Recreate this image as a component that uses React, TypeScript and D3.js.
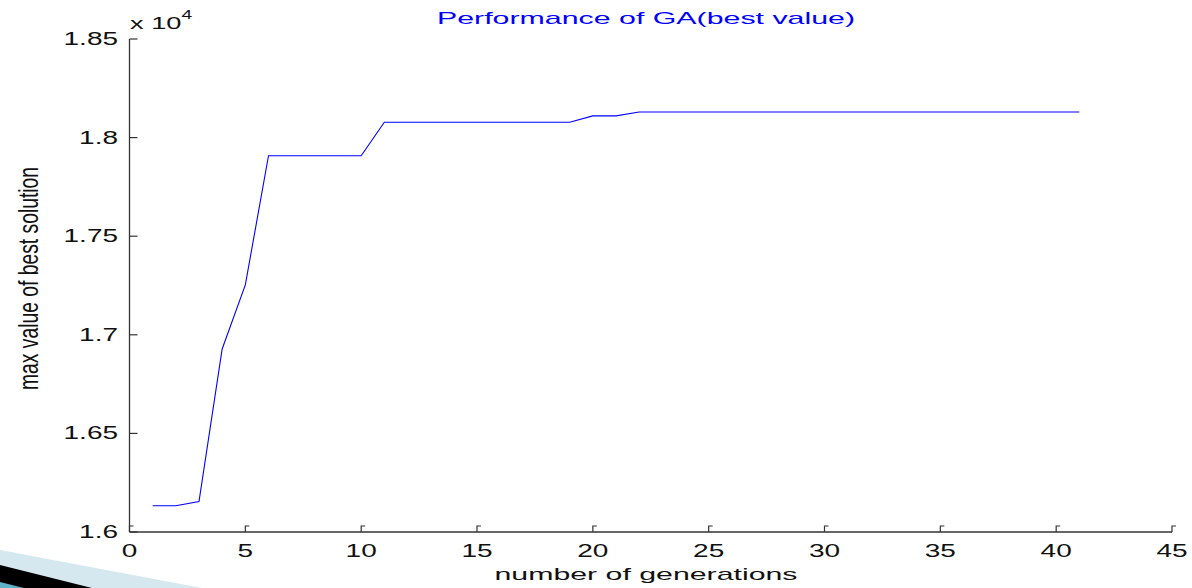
import React from 'react';
import * as d3 from 'd3';

// best value per generation (raw values, axis shows them x 10^4)
const generations = d3.range(1, 42);
const bestValues = [
  16133, 16133, 16154, 16928, 17253,
  17908, 17908, 17908, 17908, 17908,
  18078, 18078, 18078, 18078, 18078, 18078, 18078, 18078, 18078,
  18110, 18110,
  18130, 18130, 18130, 18130, 18130, 18130, 18130, 18130, 18130, 18130,
  18130, 18130, 18130, 18130, 18130, 18130, 18130, 18130, 18130, 18130,
];
const xTicks = [0, 5, 10, 15, 20, 25, 30, 35, 40, 45];
const yTicks = [16000, 16500, 17000, 17500, 18000, 18500];

const W = 1192;
const H = 588;
const FONT = '"Liberation Sans", Arial, sans-serif';
const SX = 1.6; // the figure was stretched sideways

const App: React.FC = () => {
  const x = d3.scaleLinear().domain([0, 45]).range([129.5, 1172]);
  const y = d3.scaleLinear().domain([16000, 18500]).range([532, 39]);

  const line = d3.line<number>()
    .x((_, i) => x(generations[i]))
    .y(d => y(d));

  const axisColor = '#333';

  return (
    <svg width={W} height={H} style={{ position: 'absolute', left: 0, top: 0, background: '#fff' }}>
      {/* slide decoration, bottom left */}
      <polygon points="0,550 202,588 0,588" fill="#d6e8ef" />
      <polygon points="0,565 92,588 0,588" fill="#000" />
      <polygon points="0,582 24,588 0,588" fill="#5fb3c9" />

      {/* title */}
      <text x={646} y={24} textAnchor="middle" fontFamily={FONT} fontSize={17}
        fill="#0000ff" textLength={418} lengthAdjust="spacingAndGlyphs">
        Performance of GA(best value)
      </text>

      {/* axes */}
      <line x1={x(0)} x2={x(0)} y1={y(18500)} y2={y(16000)} stroke={axisColor} strokeWidth={1.3} />
      <line x1={x(0)} x2={x(45)} y1={y(16000)} y2={y(16000)} stroke={axisColor} strokeWidth={1.3} />

      {yTicks.map(t => (
        <g key={'y' + t}>
          <line x1={x(0)} x2={x(0) + 8} y1={y(t)} y2={y(t)} stroke={axisColor} strokeWidth={1.2} />
          <text transform={`translate(118,${y(t) + 6}) scale(${SX},1)`} textAnchor="end"
            fontFamily={FONT} fontSize={17.5} fill="#111">
            {d3.format('~g')(t / 1e4)}
          </text>
        </g>
      ))}

      {xTicks.map(t => (
        <g key={'x' + t}>
          <path d={`M${x(t)},${y(16000)}v-6h4`} fill="none" stroke={axisColor} strokeWidth={1.2} />
          <text transform={`translate(${x(t)},557) scale(${SX},1)`} textAnchor="middle"
            fontFamily={FONT} fontSize={17.5} fill="#111">
            {t}
          </text>
        </g>
      ))}

      {/* exponent label */}
      <text transform={`translate(130,29) scale(${SX},1)`} fontFamily={FONT} fontSize={17} fill="#111">
        x 10<tspan dy={-10} fontSize={12}>4</tspan>
      </text>

      {/* axis labels */}
      <text x={646} y={580} textAnchor="middle" fontFamily={FONT} fontSize={17}
        fill="#111" textLength={303} lengthAdjust="spacingAndGlyphs">
        number of generations
      </text>
      <text transform="translate(38,278.5) scale(1.45,1) rotate(-90)" textAnchor="middle"
        fontFamily={FONT} fontSize={19} fill="#111" textLength={223} lengthAdjust="spacingAndGlyphs">
        max value of best solution
      </text>

      <path d={line(bestValues) || ''} fill="none" stroke="#0000ff" strokeWidth={1.1} />
    </svg>
  );
};

export default App;
